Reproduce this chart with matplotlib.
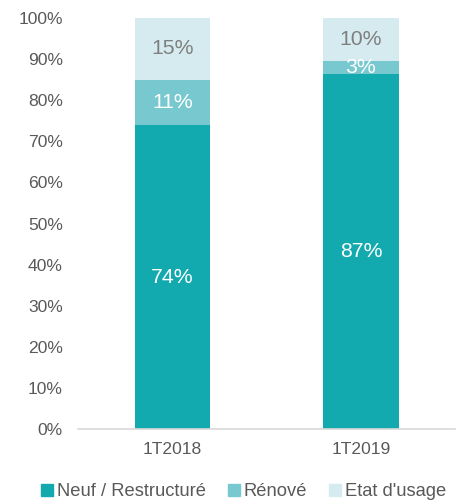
import numpy as np
import matplotlib.pyplot as plt
from matplotlib.patches import Patch

plt.rcParams['font.family'] = ['Liberation Sans', 'DejaVu Sans']

# données
categories = ['1T2018', '1T2019']
series = ['Neuf / Restructuré', 'Rénové', "Etat d'usage"]
neuf = [74, 86.3]
renove = [11, 3.2]
usage = [15, 10.5]
labels_neuf = ['74%', '87%']
labels_renove = ['11%', '3%']
labels_usage = ['15%', '10%']

colors = ['#12aaaf', '#78c8d0', '#d6ebef']
txt_colors = ['white', 'white', '#7f7f7f']
grey = '#595959'

fig = plt.figure(figsize=(4.64, 5.03), dpi=100)
ax = fig.add_axes([0.168, 0.147, 0.813, 0.817])

x = np.arange(len(categories))
bottom = np.zeros(len(categories))
for vals, labs, col, tcol in zip([neuf, renove, usage],
                                 [labels_neuf, labels_renove, labels_usage],
                                 colors, txt_colors):
    vals = np.array(vals)
    ax.bar(x, vals, 0.4, bottom=bottom, color=col)
    for xi, b, v, lab in zip(x, bottom, vals, labs):
        ax.text(xi, b + v / 2, lab, ha='center', va='center',
                color=tcol, fontsize=15.3)
    bottom += vals

ax.set_xlim(-0.5, 1.5)
ax.set_ylim(0, 100)
ax.set_yticks(np.arange(0, 101, 10))
ax.set_yticklabels([f'{v}%' for v in range(0, 101, 10)])
ax.set_xticks(x)
ax.set_xticklabels(categories)
ax.tick_params(length=0, colors=grey, labelsize=12.6)
ax.tick_params(axis='x', pad=9)
ax.tick_params(axis='y', pad=11)
for s in ['top', 'right', 'left']:
    ax.spines[s].set_visible(False)
ax.spines['bottom'].set_color('#d9d9d9')
ax.spines['bottom'].set_linewidth(1.2)

handles = [Patch(color=c) for c in colors]
fig.legend(handles, series, loc='center', bbox_to_anchor=(0.525, 0.022),
           ncol=3, frameon=False, fontsize=13.2, handlelength=0.65,
           handleheight=0.65, handletextpad=0.2, columnspacing=1.2,
           labelcolor=grey)

fig.savefig('out.png', dpi=100)
